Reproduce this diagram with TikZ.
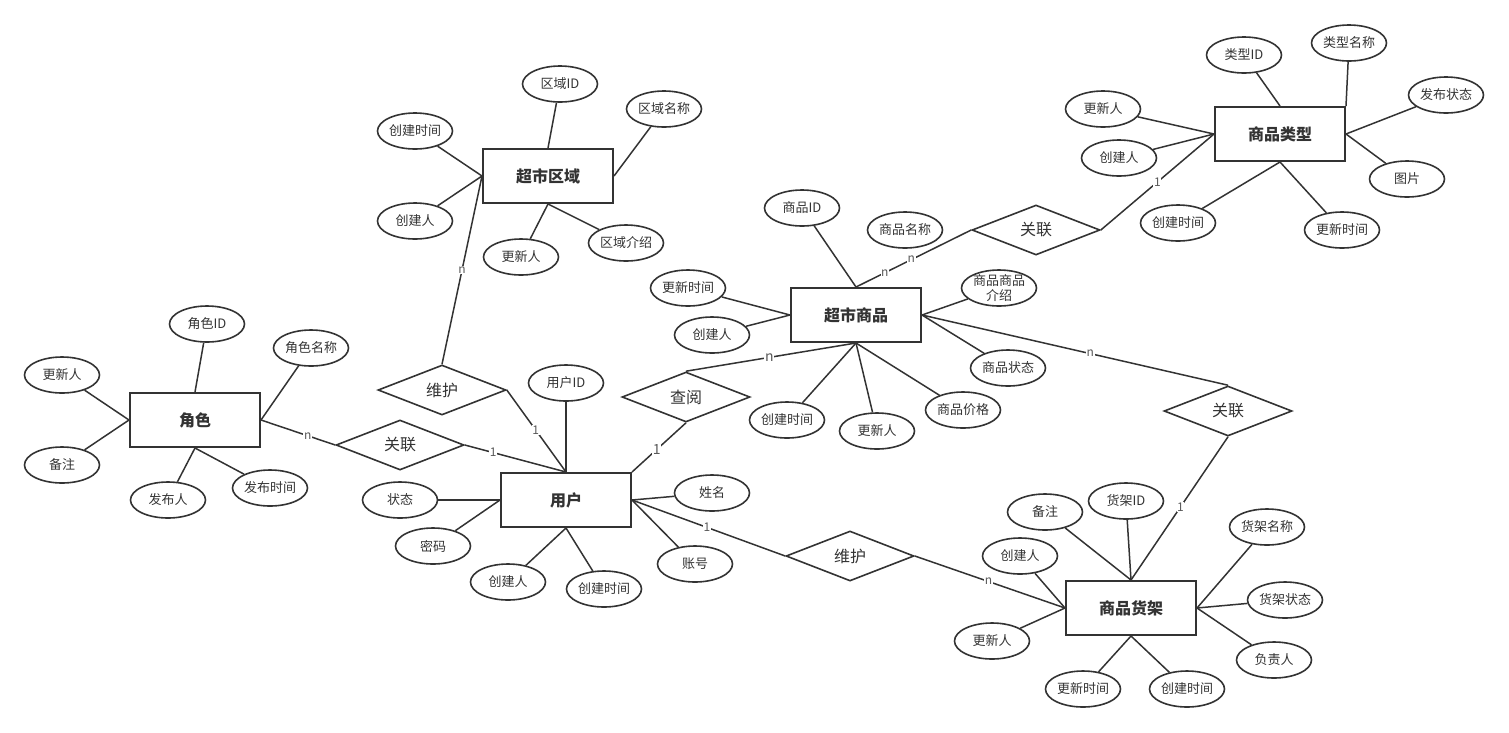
\documentclass[tikz,border=0pt]{standalone}
\usepackage{fontspec}
\usetikzlibrary{shapes.geometric}
\newfontfamily\cjk{Noto Sans CJK SC}
\definecolor{erline}{HTML}{333333}

\begin{document}
\begin{tikzpicture}[x=1pt, y=-1pt,
    entity/.style={draw=erline, line width=2pt, rectangle, minimum width=130pt, minimum height=54pt, inner sep=0pt, text=erline, font=\cjk\bfseries\fontsize{16}{18}\selectfont},
    attr/.style={draw=erline, line width=1.6pt, ellipse, minimum width=75pt, minimum height=36pt, inner sep=0pt, text=erline, font=\cjk\fontsize{13}{15}\selectfont},
    rel/.style={draw=erline, line width=1.6pt, diamond, aspect=2.5, minimum width=128pt, minimum height=50pt, inner sep=0pt, text=erline, font=\cjk\fontsize{16}{18}\selectfont},
    lnk/.style={draw=erline, line width=1.5pt},
    card/.style={fill=white, inner sep=0.6pt, text=black!65, font=\cjk\fontsize{12}{12}\selectfont}]
    \useasboundingbox (0, 0) rectangle (1509, 732);

    \node[entity] (role)  at (195, 420)  {角色};
    \node[entity] (area)  at (548, 176)  {超市区域};
    \node[entity] (goods) at (856, 315)  {超市商品};
    \node[entity] (gtype) at (1280, 134) {商品类型};
    \node[entity] (user)  at (566, 500)  {用户};
    \node[entity] (shelf) at (1131, 608) {商品货架};

    \node[rel] (roleRel)  at (400, 445)  {关联};
    \node[rel] (areaRel)  at (442, 390)  {维护};
    \node[rel] (viewRel)  at (686, 397)  {查阅};
    \node[rel] (typeRel)  at (1036, 230) {关联};
    \node[rel] (shelfRel) at (1228, 411) {关联};
    \node[rel] (keepRel)  at (850, 556)  {维护};

    % 角色
    \node[attr] (roleId)    at (207, 324) {角色ID};
    \node[attr] (roleName)  at (311, 348) {角色名称};
    \node[attr] (roleUpd)   at (62, 375)  {更新人};
    \node[attr] (roleNote)  at (62, 465)  {备注};
    \node[attr] (rolePub)   at (168, 500) {发布人};
    \node[attr] (rolePubT)  at (270, 488) {发布时间};
    % 超市区域
    \node[attr] (areaId)    at (560, 84)  {区域ID};
    \node[attr] (areaName)  at (664, 109) {区域名称};
    \node[attr] (areaCrtT)  at (415, 131) {创建时间};
    \node[attr] (areaCrt)   at (415, 221) {创建人};
    \node[attr] (areaUpd)   at (521, 257) {更新人};
    \node[attr] (areaInfo)  at (626, 243) {区域介绍};
    % 超市商品
    \node[attr] (goodsId)   at (802, 208) {商品ID};
    \node[attr] (goodsName) at (905, 230) {商品名称};
    \node[attr] (goodsUpdT) at (688, 288) {更新时间};
    \node[attr] (goodsCrt)  at (712, 335) {创建人};
    \node[attr, inner sep=-2pt, align=center, font=\cjk\fontsize{13}{15}\selectfont] (goodsInfo) at (999, 288) {商品商品\\介绍};
    \node[attr] (goodsStat) at (1008, 368) {商品状态};
    \node[attr] (goodsCrtT) at (787, 420) {创建时间};
    \node[attr] (goodsUpd)  at (877, 431) {更新人};
    \node[attr] (goodsPric) at (963, 410) {商品价格};
    % 商品类型
    \node[attr] (typeId)    at (1244, 55)  {类型ID};
    \node[attr] (typeName)  at (1349, 43)  {类型名称};
    \node[attr] (typeStat)  at (1446, 95)  {发布状态};
    \node[attr] (typePic)   at (1407, 179) {图片};
    \node[attr] (typeUpd)   at (1103, 109) {更新人};
    \node[attr] (typeCrt)   at (1119, 158) {创建人};
    \node[attr] (typeCrtT)  at (1178, 223) {创建时间};
    \node[attr] (typeUpdT)  at (1342, 230) {更新时间};
    % 用户
    \node[attr] (userId)    at (566, 383) {用户ID};
    \node[attr] (userName)  at (712, 493) {姓名};
    \node[attr] (userAcc)   at (695, 564) {账号};
    \node[attr] (userStat)  at (400, 500) {状态};
    \node[attr] (userPwd)   at (433, 546) {密码};
    \node[attr] (userCrt)   at (508, 582) {创建人};
    \node[attr] (userCrtT)  at (604, 589) {创建时间};
    % 商品货架
    \node[attr] (shelfNote) at (1045, 512) {备注};
    \node[attr] (shelfId)   at (1126, 501) {货架ID};
    \node[attr] (shelfCrt)  at (1020, 556) {创建人};
    \node[attr] (shelfUpd)  at (992, 641)  {更新人};
    \node[attr] (shelfUpdT) at (1083, 689) {更新时间};
    \node[attr] (shelfCrtT) at (1187, 689) {创建时间};
    \node[attr] (shelfName) at (1267, 527) {货架名称};
    \node[attr] (shelfStat) at (1285, 600) {货架状态};
    \node[attr] (shelfBoss) at (1274, 660) {负责人};

    \draw [lnk] (roleId) to (role.north);
    \draw [lnk] (roleName) to (role.east);
    \draw [lnk] (roleUpd) to (role.west);
    \draw [lnk] (roleNote) to (role.west);
    \draw [lnk] (rolePub) to (role.south);
    \draw [lnk] (rolePubT) to (role.south);

    \draw [lnk] (areaId) to (area.north);
    \draw [lnk] (areaName) to (area.east);
    \draw [lnk] (areaCrtT) to (area.west);
    \draw [lnk] (areaCrt) to (area.west);
    \draw [lnk] (areaUpd) to (area.south);
    \draw [lnk] (areaInfo) to (area.south);

    \draw [lnk] (goodsId) to (goods.north);
    \draw [lnk] (goodsUpdT) to (goods.west);
    \draw [lnk] (goodsCrt) to (goods.west);
    \draw [lnk] (goodsInfo) to (goods.east);
    \draw [lnk] (goodsStat) to (goods.east);
    \draw [lnk] (goodsCrtT) to (goods.south);
    \draw [lnk] (goodsUpd) to (goods.south);
    \draw [lnk] (goodsPric) to (goods.south);

    \draw [lnk] (typeId) to (gtype.north);
    \draw [lnk] (typeName) to (gtype.north east);
    \draw [lnk] (typeStat) to (gtype.east);
    \draw [lnk] (typePic) to (gtype.east);
    \draw [lnk] (typeUpd) to (gtype.west);
    \draw [lnk] (typeCrt) to (gtype.west);
    \draw [lnk] (typeCrtT) to (gtype.south);
    \draw [lnk] (typeUpdT) to (gtype.south);

    \draw [lnk] (userId) to (user.north);
    \draw [lnk] (userName) to (user.east);
    \draw [lnk] (userAcc) to (user.east);
    \draw [lnk] (userStat) to (user.west);
    \draw [lnk] (userPwd) to (user.west);
    \draw [lnk] (userCrt) to (user.south);
    \draw [lnk] (userCrtT) to (user.south);

    \draw [lnk] (shelfNote) to (shelf.north);
    \draw [lnk] (shelfId) to (shelf.north);
    \draw [lnk] (shelfCrt) to (shelf.west);
    \draw [lnk] (shelfUpd) to (shelf.west);
    \draw [lnk] (shelfUpdT) to (shelf.south);
    \draw [lnk] (shelfCrtT) to (shelf.south);
    \draw [lnk] (shelfName) to (shelf.east);
    \draw [lnk] (shelfStat) to (shelf.east);
    \draw [lnk] (shelfBoss) to (shelf.east);

    % relationships
    \draw [lnk] (role.east) to node[card, pos=0.63] {n} (roleRel.west);
    \draw [lnk] (roleRel.east) to node[card, pos=0.28] {1} (user.north);
    \draw [lnk] (areaRel.north) to node[card, pos=0.5] {n} (area.west);
    \draw [lnk] (areaRel.east) to node[card, pos=0.49] {1} (user.north);
    \draw [lnk] (viewRel.north) to node[card, pos=0.49, font=\cjk\fontsize{14}{14}\selectfont] {n} (goods.south);
    \draw [lnk] (viewRel.south) to node[card, pos=0.54, font=\cjk\fontsize{14}{14}\selectfont] {1} (user.north east);
    \draw [lnk] (goods.north) to node[card, pos=0.25] {n} node[card, pos=0.48] {n} (typeRel.west);
    \draw [lnk] (typeRel.east) to node[card, pos=0.5] {1} (gtype.west);
    \draw [lnk] (goods.east) to node[card, pos=0.55] {n} (shelfRel.north);
    \draw [lnk] (shelfRel.south) to node[card, pos=0.49] {1} (shelf.north);
    \draw [lnk] (user.east) to node[card, pos=0.49] {1} (keepRel.west);
    \draw [lnk] (keepRel.east) to node[card, pos=0.49] {n} (shelf.west);
\end{tikzpicture}
\end{document}
